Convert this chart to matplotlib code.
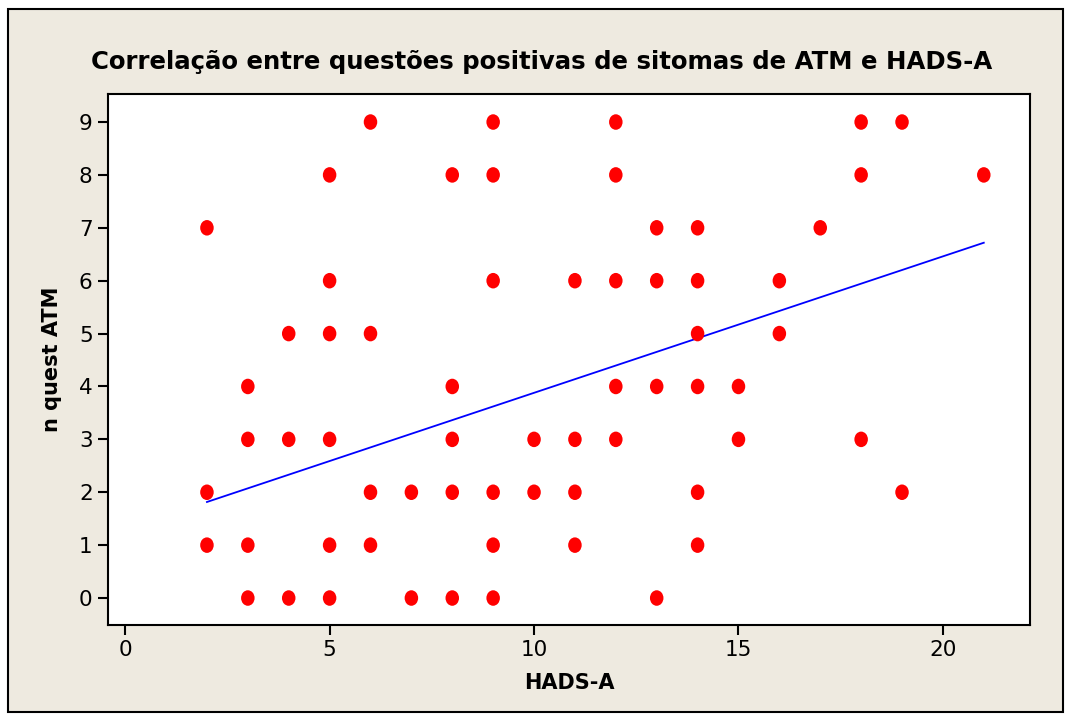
import numpy as np
import matplotlib.pyplot as plt
from matplotlib.patches import Rectangle
from matplotlib.path import Path
from matplotlib.transforms import Affine2D

# Pontos (HADS-A, n quest ATM)
hads_a = [6, 9, 12, 18, 19,
          5, 8, 9, 12, 18, 21,
          2, 13, 14, 17,
          5, 9, 11, 12, 13, 14, 16,
          4, 5, 6, 14, 16,
          3, 8, 12, 13, 14, 15,
          3, 4, 5, 8, 10, 11, 12, 15, 18,
          2, 6, 7, 8, 9, 10, 11, 14, 19,
          2, 3, 5, 6, 9, 11, 14,
          3, 4, 5, 7, 8, 9, 13]
n_quest_atm = [9, 9, 9, 9, 9,
               8, 8, 8, 8, 8, 8,
               7, 7, 7, 7,
               6, 6, 6, 6, 6, 6, 6,
               5, 5, 5, 5, 5,
               4, 4, 4, 4, 4, 4,
               3, 3, 3, 3, 3, 3, 3, 3, 3,
               2, 2, 2, 2, 2, 2, 2, 2, 2,
               1, 1, 1, 1, 1, 1, 1,
               0, 0, 0, 0, 0, 0, 0]

# Reta de regressão (coeficientes)
fit_intercept = 1.30
fit_slope = 0.258

x_ticks = [0, 5, 10, 15, 20]
y_ticks = list(range(10))

# marcador levemente oval, como no Minitab
oval = Path.unit_circle().transformed(Affine2D().scale(0.87, 1.0))

bg = '#EEEAE0'
fig = plt.figure(figsize=(10.67, 7.19), dpi=100, facecolor='white')
fig.patches.append(Rectangle((8 / 1067, 7 / 719), 1055 / 1067, 703 / 719,
                             transform=fig.transFigure, facecolor=bg,
                             edgecolor='black', linewidth=1.5, zorder=-1))

ax = fig.add_axes([108 / 1067, 94 / 719, 922 / 1067, 531 / 719])
ax.set_facecolor('white')

ax.scatter(hads_a, n_quest_atm, s=125, color='red', marker=oval,
           edgecolors='none', zorder=3)

xl = np.array([min(hads_a), max(hads_a)])
ax.plot(xl, fit_intercept + fit_slope * xl, color='blue', linewidth=1.3, zorder=2)

ax.set_xlim(-0.42, 22.13)
ax.set_ylim(-0.51, 9.53)
ax.set_xticks(x_ticks)
ax.set_yticks(y_ticks)
ax.tick_params(direction='out', length=7, width=1.5, labelsize=15.5, pad=4)
for s in ax.spines.values():
    s.set_linewidth(1.5)

ax.set_xlabel('HADS-A', fontsize=15, fontweight='bold', labelpad=9)
ax.set_ylabel('n quest ATM', fontsize=15, fontweight='bold', labelpad=12)
fig.text(0.508, 1 - 62 / 719, 'Correlação entre questões positivas de sitomas de ATM e HADS-A',
         ha='center', va='center', fontsize=17.6, fontweight='bold')

fig.savefig('out.png', dpi=100, facecolor='white')
